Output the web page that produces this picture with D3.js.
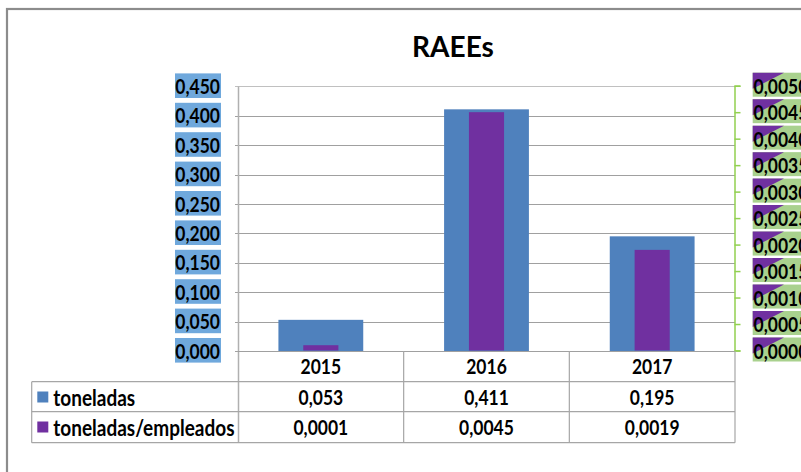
<!DOCTYPE html>
<html>
<head>
<meta charset="utf-8">
<script src="https://cdn.jsdelivr.net/npm/d3@7/dist/d3.min.js"></script>
<style>
  html, body { margin: 0; padding: 0; background: #fff; }
  svg { display: block; }
  text { font-family: Lato, "Open Sans", sans-serif; font-weight: bold; fill: #000; }
</style>
</head>
<body>
<svg id="chart" width="801" height="472"></svg>
<script>
const title = "RAEEs";
const categories = ["2015", "2016", "2017"];
const seriesNames = ["toneladas", "toneladas/empleados"];
const toneladas = [0.053, 0.411, 0.195];
const toneladasEmpleados = [0.0001, 0.0045, 0.0019];
const leftTicks = [0, 0.05, 0.1, 0.15, 0.2, 0.25, 0.3, 0.35, 0.4, 0.45];
const rightTicks = [0, 0.0005, 0.001, 0.0015, 0.002, 0.0025, 0.003, 0.0035, 0.004, 0.0045, 0.005];

const BLUE = "#4f81bd", PURPLE = "#7030a0", GREEN = "#92d050";
const LABEL_BLUE = "#6fa8dc", LABEL_GREEN = "#a9d18e";

const loc = d3.formatLocale({decimal: ",", thousands: ".", grouping: [3], currency: ["", ""]});
const fmt3 = loc.format(".3f"), fmt4 = loc.format(".4f");

const svg = d3.select("#chart");
const SY = 1.15; // vertical stretch of text, as in the reference

function stretchedText(parent, xx, yy, str, size, anchor) {
  return parent.append("text")
    .attr("transform", `translate(${xx},${yy}) scale(1,${SY})`)
    .attr("text-anchor", anchor || "start")
    .attr("dominant-baseline", "central")
    .style("font-size", size + "px")
    .text(str);
}

// outer chart border
svg.append("rect").attr("x", 7).attr("y", 9).attr("width", 820).attr("height", 500)
  .attr("fill", "none").attr("stroke", "#8c8c8c").attr("stroke-width", 2.2);

const plotL = 238, plotR = 735, plotT = 86.4, plotB = 351;
const x = d3.scaleBand().domain(categories).range([plotL, plotR]).paddingInner(0).paddingOuter(0);
const yL = d3.scaleLinear().domain([0, 0.45]).range([plotB, plotT]);
const yR = d3.scaleLinear().domain([0, 0.005]).range([plotB - 0.5, plotT - 0.7]);

// title
svg.append("text").attr("x", 453).attr("y", 57).attr("text-anchor", "middle")
  .style("font-size", "28px").text(title);

// gridlines
svg.append("g").selectAll("line").data(leftTicks).join("line")
  .attr("x1", plotL - 3).attr("x2", plotR)
  .attr("y1", d => Math.round(yL(d)) + 0.5).attr("y2", d => Math.round(yL(d)) + 0.5)
  .attr("stroke", d => d === 0.45 ? "#c0c0c0" : "#a0a0a0").attr("stroke-width", 1.2);

// left axis line (extends into table)
svg.append("line").attr("x1", plotL + 0.5).attr("x2", plotL + 0.5).attr("y1", plotT).attr("y2", 443)
  .attr("stroke", "#b0b0b0").attr("stroke-width", 1.5);

// bars
const bw1 = x.bandwidth() * 0.512, bw2 = x.bandwidth() * 0.212;
svg.append("g").selectAll("rect").data(toneladas).join("rect")
  .attr("x", (d, i) => x(categories[i]) + (x.bandwidth() - bw1) / 2)
  .attr("width", bw1)
  .attr("y", d => yL(d)).attr("height", d => plotB - yL(d))
  .attr("fill", BLUE);
svg.append("g").selectAll("rect").data(toneladasEmpleados).join("rect")
  .attr("x", (d, i) => x(categories[i]) + (x.bandwidth() - bw2) / 2)
  .attr("width", bw2)
  .attr("y", d => yR(d)).attr("height", d => yR(0) - yR(d))
  .attr("fill", PURPLE);

// bottom axis line
svg.append("line").attr("x1", plotL).attr("x2", plotR).attr("y1", plotB + 0.5).attr("y2", plotB + 0.5)
  .attr("stroke", "#a0a0a0").attr("stroke-width", 1.2);

// left axis labels with blue boxes
const gl = svg.append("g");
leftTicks.forEach(t => {
  const g = gl.append("g");
  g.append("rect").attr("x", 175).attr("y", yL(t) - 13)
    .attr("width", 221 - 175).attr("height", 24.6).attr("fill", LABEL_BLUE);
  stretchedText(g, 220, yL(t) - 0.5, fmt3(t), 17.5, "end");
});

// right axis (green)
const axR = d3.axisRight(yR).tickValues(rightTicks).tickSize(6).tickFormat("");
const gR = svg.append("g").attr("transform", `translate(${plotR - 0.5},0)`).call(axR);
gR.select(".domain").attr("stroke", GREEN).attr("stroke-width", 1.5);
gR.selectAll(".tick line").attr("stroke", GREEN).attr("stroke-width", 1.5);

// right labels with green boxes + purple corner (cut by the chart edge, as in the reference)
const gr = svg.append("g");
rightTicks.forEach(t => {
  const cy = yR(t) - 1;
  const g = gr.append("g");
  g.append("rect").attr("x", 752.7).attr("y", cy - 12).attr("width", 60).attr("height", 24).attr("fill", LABEL_GREEN);
  g.append("path").attr("d", `M752.7,${cy - 12} L784,${cy - 12} L752.7,${cy + 4} Z`).attr("fill", PURPLE);
  stretchedText(g, 753.5, cy + 1, fmt4(t), 17.5, "start");
});

// data table
const tbl = svg.append("g");
const tableL = 31.7, rowTop = [381.7, 411.7];
const tableB = 442.7;
[381.7, 411.7, 442.7].forEach(yy => {
  tbl.append("line").attr("x1", tableL).attr("x2", plotR).attr("y1", yy).attr("y2", yy)
    .attr("stroke", "#a6a6a6").attr("stroke-width", 1.2);
});
tbl.append("line").attr("x1", tableL).attr("x2", tableL).attr("y1", 381.7).attr("y2", tableB)
  .attr("stroke", "#a6a6a6").attr("stroke-width", 1.2);
categories.forEach(c => {
  const xx = x(c) + x.bandwidth();
  tbl.append("line").attr("x1", xx).attr("x2", xx).attr("y1", plotB).attr("y2", tableB)
    .attr("stroke", "#a6a6a6").attr("stroke-width", 1.2);
});
categories.forEach(c => {
  stretchedText(tbl, x(c) + x.bandwidth() / 2, 366, c, 17.5, "middle");
});
const rows = [
  {name: seriesNames[0], color: BLUE, vals: toneladas, f: fmt3},
  {name: seriesNames[1], color: PURPLE, vals: toneladasEmpleados, f: fmt4}
];
rows.forEach((r, i) => {
  const cy = rowTop[i] + 15.3;
  tbl.append("rect").attr("x", 37.3).attr("y", cy - 5.5).attr("width", 11).attr("height", 11).attr("fill", r.color);
  stretchedText(tbl, 53.3, cy, r.name, 19, "start");
  r.vals.forEach((v, j) => {
    stretchedText(tbl, x(categories[j]) + x.bandwidth() / 2, cy, r.f(v), 17.5, "middle");
  });
});
</script>
</body>
</html>
